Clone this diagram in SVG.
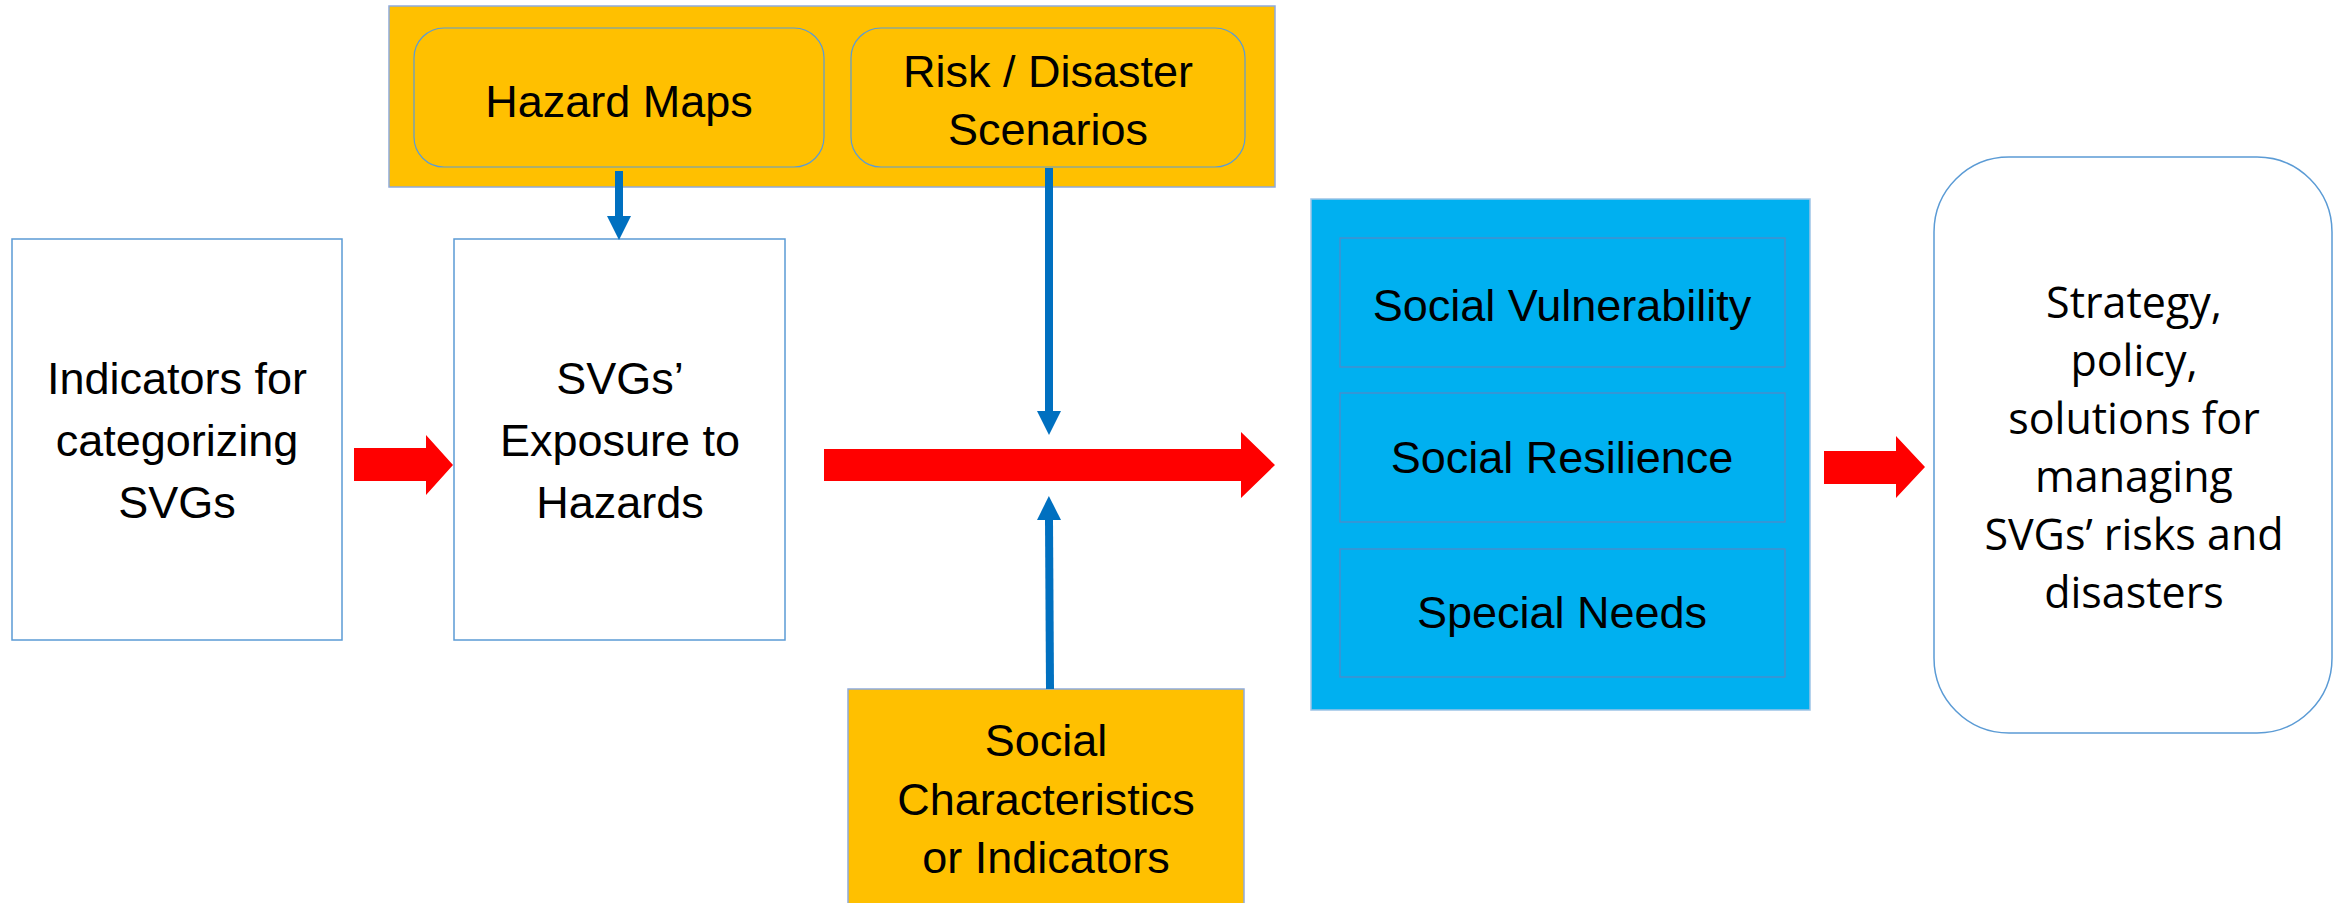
<svg xmlns="http://www.w3.org/2000/svg" width="2344" height="903" viewBox="0 0 2344 903">
  <defs>
    <style>
      .box { fill: #ffffff; stroke: #5B9BD5; stroke-width: 1.5; }
      .yellow { fill: #FFC000; stroke: #8FAADC; stroke-width: 1.5; }
      .ylw-inner { fill: #FFC000; stroke: #5B9BD5; stroke-width: 1.2; }
      .cyan { fill: #00B0F0; stroke: #9DC3E6; stroke-width: 1.5; }
      .cyan-inner { fill: #00B0F0; stroke: #4F8AC8; stroke-width: 1.3; }
      .lbl { font-family: "Liberation Sans", Arial, sans-serif; font-size: 45px; fill: #000000; text-anchor: middle; }
      .lbl2 { font-family: "Open Sans", "Liberation Sans", sans-serif; font-size: 43px; fill: #000000; text-anchor: middle; }
      .flow { fill: #FF0000; stroke: none; }
      .link { stroke: #0070C0; stroke-width: 8; fill: none; marker-end: url(#head); }
    </style>
    <marker id="head" viewBox="0 0 24 24" refX="0" refY="12" markerWidth="24" markerHeight="24" markerUnits="userSpaceOnUse" orient="auto">
      <polygon points="0,0 24,12 0,24" fill="#0070C0"/>
    </marker>
  </defs>

  <!-- input data group: hazard maps and scenarios -->
  <g id="inputs">
    <rect class="yellow" x="389" y="6" width="886" height="181"/>
    <g id="hazard-maps">
      <rect class="ylw-inner" x="414" y="28" width="410" height="139" rx="30" ry="30"/>
      <text class="lbl" x="619" y="117">Hazard Maps</text>
    </g>
    <g id="scenarios">
      <rect class="ylw-inner" x="851" y="28" width="394" height="139" rx="30" ry="30"/>
      <text class="lbl" x="1048" y="87">Risk / Disaster</text>
      <text class="lbl" x="1048" y="145">Scenarios</text>
    </g>
  </g>

  <g id="indicators">
    <rect class="box" x="12" y="239" width="330" height="401"/>
    <text class="lbl" x="177" y="394">Indicators for</text>
    <text class="lbl" x="177" y="456">categorizing</text>
    <text class="lbl" x="177" y="518">SVGs</text>
  </g>

  <g id="exposure">
    <rect class="box" x="454" y="239" width="331" height="401"/>
    <text class="lbl" x="620" y="394">SVGs’</text>
    <text class="lbl" x="620" y="456">Exposure to</text>
    <text class="lbl" x="620" y="518">Hazards</text>
  </g>

  <g id="social-characteristics">
    <rect class="yellow" x="848" y="689" width="396" height="220"/>
    <text class="lbl" x="1046" y="756">Social</text>
    <text class="lbl" x="1046" y="815">Characteristics</text>
    <text class="lbl" x="1046" y="873">or Indicators</text>
  </g>

  <g id="social-assessment">
    <rect class="cyan" x="1311" y="199" width="499" height="511"/>
    <g id="vulnerability">
      <rect class="cyan-inner" x="1340" y="238" width="445" height="129"/>
      <text class="lbl" x="1562" y="321">Social Vulnerability</text>
    </g>
    <g id="resilience">
      <rect class="cyan-inner" x="1340" y="393" width="445" height="129"/>
      <text class="lbl" x="1562" y="473">Social Resilience</text>
    </g>
    <g id="special-needs">
      <rect class="cyan-inner" x="1340" y="549" width="445" height="128"/>
      <text class="lbl" x="1562" y="628">Special Needs</text>
    </g>
  </g>

  <g id="strategy">
    <rect class="box" x="1934" y="157" width="398" height="576" rx="75" ry="75"/>
    <text class="lbl2" x="2134" y="318">Strategy,</text>
    <text class="lbl2" x="2134" y="376">policy,</text>
    <text class="lbl2" x="2134" y="434">solutions for</text>
    <text class="lbl2" x="2134" y="492">managing</text>
    <text class="lbl2" x="2134" y="550">SVGs’ risks and</text>
    <text class="lbl2" x="2134" y="608">disasters</text>
  </g>

  <!-- connectors -->
  <g id="connectors">
    <polygon class="flow" points="354,448 426,448 426,435 453,465 426,495 426,481 354,481"/>
    <polygon class="flow" points="824,449 1241,449 1241,432 1275,465 1241,498 1241,481 824,481"/>
    <polygon class="flow" points="1824,451 1896,451 1896,436 1925,467 1896,498 1896,484 1824,484"/>
    <line class="link" x1="619" y1="171" x2="619" y2="216"/>
    <line class="link" x1="1049" y1="168" x2="1049" y2="411"/>
    <line class="link" x1="1050" y1="689" x2="1049" y2="520"/>
  </g>
</svg>
